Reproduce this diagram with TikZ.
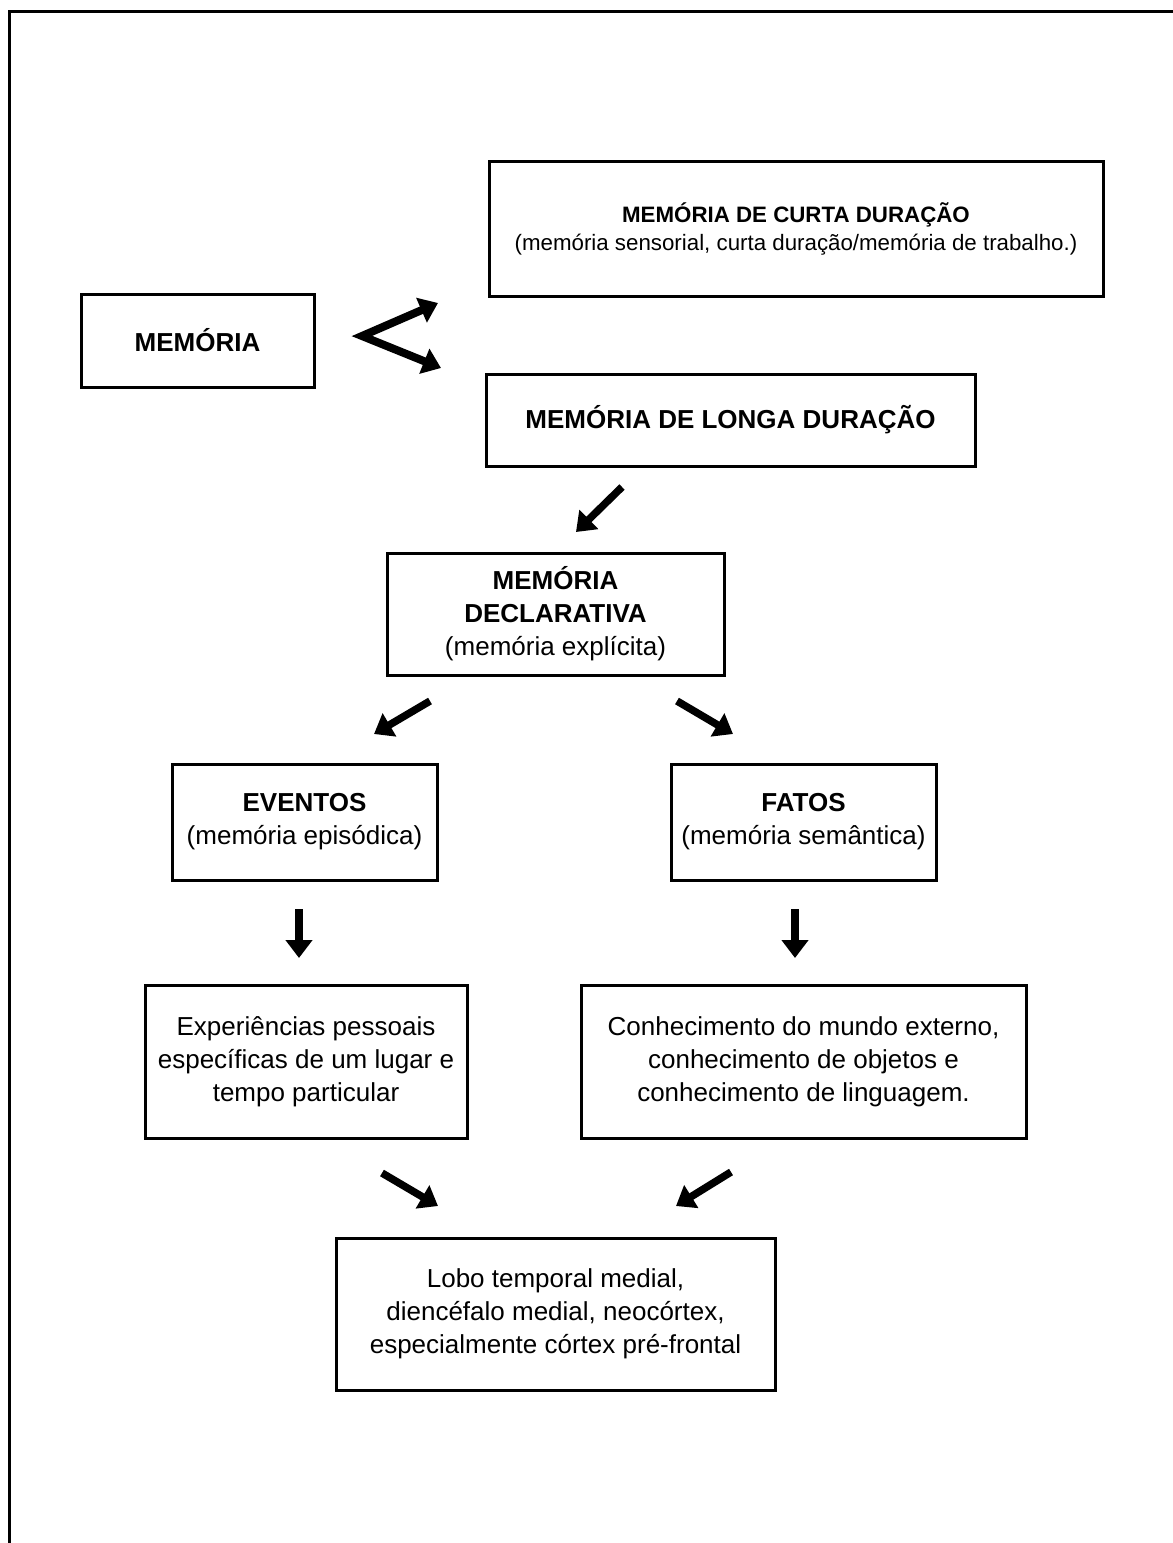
\documentclass[tikz,border=0pt]{standalone}
\usepackage{fontspec}
\setmainfont{Liberation Sans}
\usetikzlibrary{arrows.meta}
\begin{document}
\begin{tikzpicture}[x=1pt,y=-1pt,
  box/.style={draw, line width=3pt, inner sep=0pt, align=center,
    font=\fontsize{26}{33}\selectfont},
  arr/.style={line width=7.5pt, -{Triangle[length=18pt,width=26pt]}},
  tipstyle/.style={line width=8pt, line join=miter, miter limit=20,
    {Triangle[length=18pt,width=26pt]}-{Triangle[length=18pt,width=26pt]}}]
\useasboundingbox (0,0) rectangle (1173,1543);
\clip (0,0) rectangle (1173,1543);
\fill[white] (0,0) rectangle (1173,1543);
\draw[line width=3pt] (9,1600) -- (9,11) -- (1220,11);

% boxes
\node[box, minimum width=614pt, minimum height=135pt, font=\fontsize{22.3}{28}\selectfont] (curta) at (796,229)
  {\textbf{MEMÓRIA DE CURTA DURAÇÃO}\\(memória sensorial, curta duração/memória de trabalho.)};
\node[box, minimum width=233pt, minimum height=93pt] (mem) at (197.5,340.5) {\textbf{MEMÓRIA}};
\node[box, minimum width=489pt, minimum height=92pt] (longa) at (730.5,420) {\textbf{MEMÓRIA DE LONGA DURAÇÃO}};
\node[box, minimum width=337pt, minimum height=122pt] (decl) at (555.5,614)
  {\textbf{MEMÓRIA}\\\textbf{DECLARATIVA}\\(memória explícita)};
\node[box, minimum width=265pt, minimum height=116pt] (evt) at (304.5,822)
  {\textbf{EVENTOS}\\(memória episódica)};
\node[box, minimum width=265pt, minimum height=116pt] (fat) at (803.5,822)
  {\textbf{FATOS}\\(memória semântica)};
\node[box, minimum width=322pt, minimum height=153pt] (exp) at (306,1061.5)
  {Experiências pessoais\\específicas de um lugar e\\tempo particular};
\node[box, minimum width=445pt, minimum height=153pt] (con) at (803.5,1061.5)
  {Conhecimento do mundo externo,\\conhecimento de objetos e\\conhecimento de linguagem.};
\node[box, minimum width=439pt, minimum height=152pt] (lobo) at (555.5,1314)
  {Lobo temporal medial,\\diencéfalo medial, neocórtex,\\especialmente córtex pré-frontal};

% free-standing arrows
\coordinate (fu) at (438,303);
\coordinate (fv) at (362,336);
\coordinate (fd) at (441,368);
\draw[tipstyle] (fu) -- (fv) -- (fd);

\coordinate (a1s) at (622,487); \coordinate (a1e) at (576,532);
\draw[arr] (a1s) -- (a1e);
\coordinate (a2s) at (430,701); \coordinate (a2e) at (374,734);
\draw[arr] (a2s) -- (a2e);
\coordinate (a3s) at (677,701); \coordinate (a3e) at (733,734);
\draw[arr] (a3s) -- (a3e);
\coordinate (a4s) at (299,909); \coordinate (a4e) at (299,958);
\draw[arr] (a4s) -- (a4e);
\coordinate (a5s) at (795,909); \coordinate (a5e) at (795,958);
\draw[arr] (a5s) -- (a5e);
\coordinate (a6s) at (382,1173); \coordinate (a6e) at (438,1206);
\draw[arr] (a6s) -- (a6e);
\coordinate (a7s) at (731,1172); \coordinate (a7e) at (676,1206);
\draw[arr] (a7s) -- (a7e);
\end{tikzpicture}
\end{document}
